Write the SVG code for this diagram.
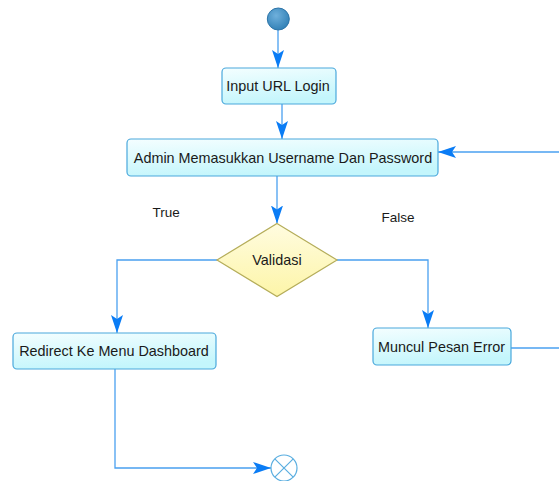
<svg xmlns="http://www.w3.org/2000/svg" width="559" height="481" viewBox="0 0 559 481">
<defs>
<linearGradient id="boxg" x1="0" y1="0" x2="0.3" y2="1">
<stop offset="0" stop-color="#f4feff"/>
<stop offset="1" stop-color="#c4f6fc"/>
</linearGradient>
<linearGradient id="diag" x1="0" y1="0" x2="0" y2="1">
<stop offset="0" stop-color="#fffce0"/>
<stop offset="1" stop-color="#fdf5a8"/>
</linearGradient>
<radialGradient id="startg" cx="0.4" cy="0.35" r="0.7">
<stop offset="0" stop-color="#6fb0dc"/>
<stop offset="1" stop-color="#2f7fb5"/>
</radialGradient>
<marker id="arr" viewBox="0 0 18 12" refX="18" refY="6" markerWidth="18" markerHeight="12" markerUnits="userSpaceOnUse" orient="auto">
<path d="M0,0 L18,6 L0,12 L4,6 Z" fill="#0a7cf5"/>
</marker>
<style>
.box{fill:url(#boxg);stroke:#4aa8dc;stroke-width:1.2}
.t{font-family:"Liberation Sans",Arial,sans-serif;font-size:14.4px;fill:#1a1a1a;text-anchor:middle}
.lbl{font-family:"Liberation Sans",Arial,sans-serif;font-size:13.5px;fill:#1a1a1a}
.c{fill:none;stroke:#4aa0f0;stroke-width:1.3}
</style>
</defs>
<g id="connectors">
<path class="c" d="M278,30 V68" marker-end="url(#arr)"/>
<path class="c" d="M282,104 V139" marker-end="url(#arr)"/>
<path class="c" d="M277,176 V223.5" marker-end="url(#arr)"/>
<path class="c" d="M217,260 H117 V333" marker-end="url(#arr)"/>
<path class="c" d="M337,260 H428 V328" marker-end="url(#arr)"/>
<path class="c" d="M511,348 H559"/>
<path class="c" d="M559,152 H438" marker-end="url(#arr)"/>
<path class="c" d="M115,369 V468 H271" marker-end="url(#arr)"/>
</g>
<g id="start">
<circle cx="278.3" cy="19" r="11" fill="url(#startg)" stroke="#2c74a8" stroke-width="1"/>
</g>
<g id="input-url">
<rect class="box" x="222" y="68" width="114" height="36" rx="4"/>
<text class="t" x="278" y="91">Input URL Login</text>
</g>
<g id="admin-input">
<rect class="box" x="127" y="139" width="311" height="37" rx="4"/>
<text class="t" x="283" y="162.5">Admin Memasukkan Username Dan Password</text>
</g>
<g id="validasi">
<polygon points="277,223.5 337,260 277,296.5 217,260" fill="url(#diag)" stroke="#b5ad5a" stroke-width="1.2"/>
<text class="t" x="277" y="265">Validasi</text>
</g>
<g id="redirect">
<rect class="box" x="13" y="333" width="203" height="36" rx="4"/>
<text class="t" x="114" y="356">Redirect Ke Menu Dashboard</text>
</g>
<g id="error">
<rect class="box" x="373" y="328" width="138" height="37" rx="4"/>
<text class="t" x="441.5" y="351.5">Muncul Pesan Error</text>
</g>
<g id="end">
<circle cx="284" cy="468" r="13" fill="#ffffff" stroke="#5aaee0" stroke-width="1.2"/>
<path d="M274.8,458.8 L293.2,477.2 M293.2,458.8 L274.8,477.2" stroke="#5aaee0" stroke-width="1.2"/>
</g>
<g id="labels">
<text class="lbl" x="152.5" y="217">True</text>
<text class="lbl" x="381.5" y="221.5">False</text>
</g>
</svg>
